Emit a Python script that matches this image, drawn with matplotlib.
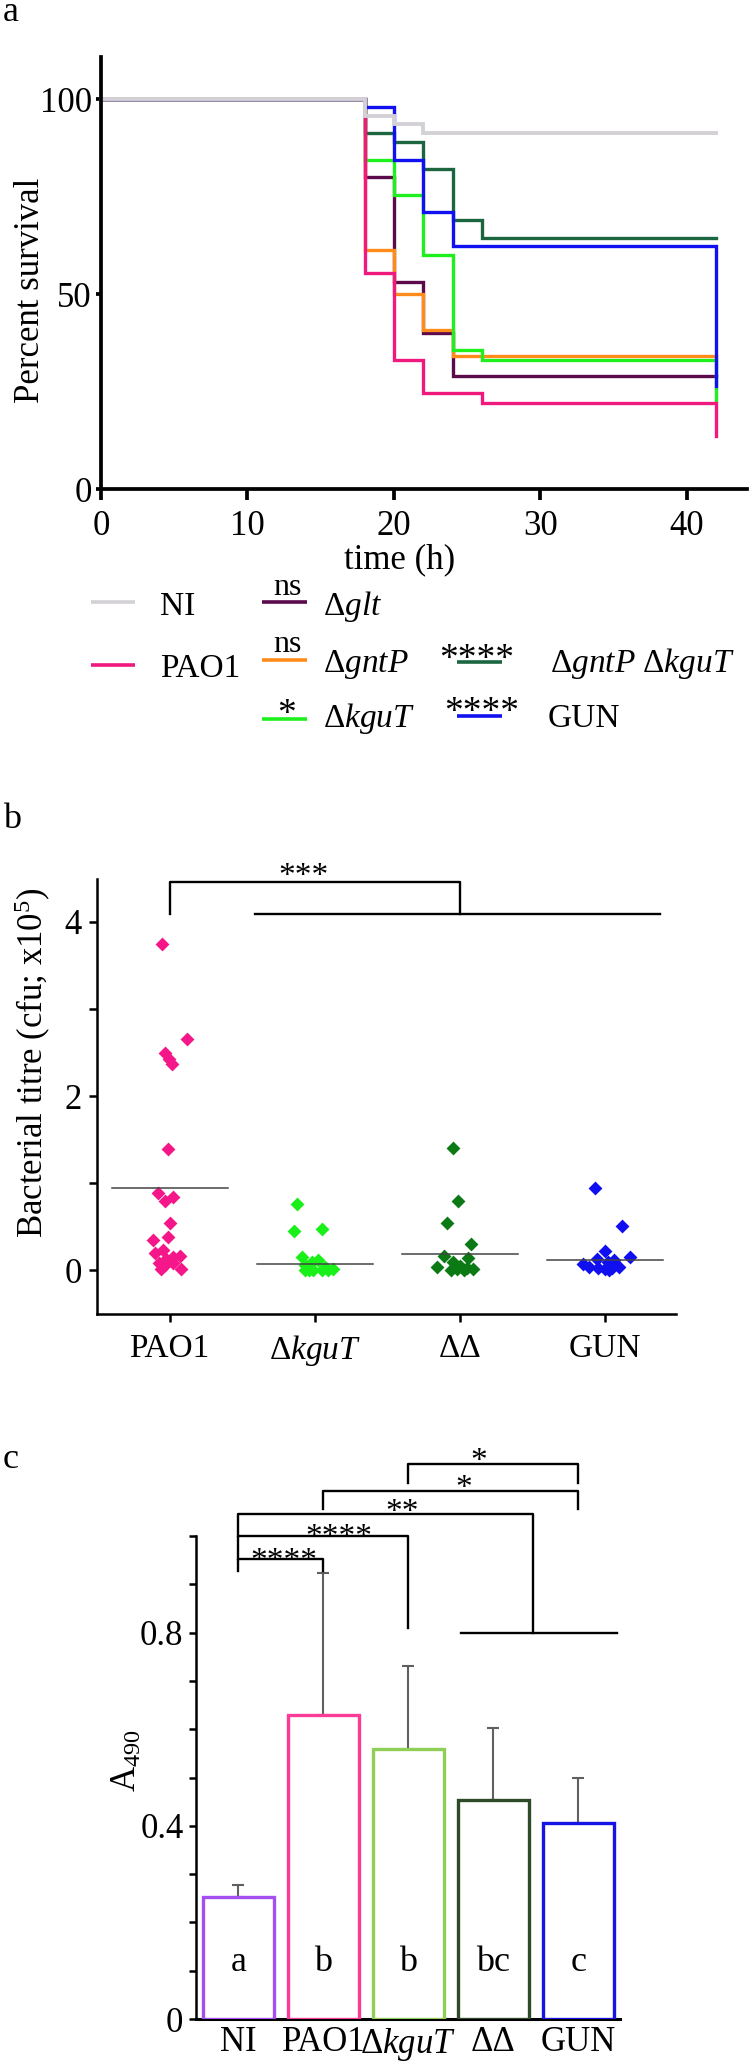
import matplotlib
matplotlib.use('Agg')
import matplotlib.pyplot as plt
import numpy as np

plt.rcParams['font.family'] = ['Liberation Serif', 'DejaVu Serif']
plt.rcParams['mathtext.fontset'] = 'custom'
plt.rcParams['mathtext.rm'] = 'Liberation Serif'
plt.rcParams['mathtext.it'] = 'Liberation Serif:italic'
plt.rcParams['mathtext.bf'] = 'Liberation Serif:bold'

# ---------------- data: panel a (survival, %) ----------------
surv_times = [0, 18, 20, 22, 24, 26, 42]
surv_NI = [100, 95.7, 93.5, 91.2, 91.2, 91.2, 91.2]
surv_PAO1 = [100, 55.5, 33.2, 24.5, 24.5, 22.1, 13.6]
surv_glt = [100, 79.9, 53.1, 39.9, 28.9, 28.9, 28.9]
surv_gntP = [100, 61.2, 49.9, 40.9, 34.0, 34.0, 34.0]
surv_kguT = [100, 84.5, 75.5, 60.0, 35.6, 33.2, 22.7]
surv_DD = [100, 91.2, 88.9, 82.2, 68.9, 64.5, 64.5]
surv_GUN = [100, 97.9, 84.5, 71.0, 62.3, 62.3, 26.4]
a_xticks = [0, 10, 20, 30, 40]
a_yticks = [0, 50, 100]

# ---------------- data: panel b (bacterial titre, x10^5) ----------------
b_groups = ['PAO1', r'$\Delta\mathit{kguT}$', 'ΔΔ', 'GUN']
b_PAO1 = [3.74, 2.66, 2.49, 2.43, 2.37, 1.39, 0.89, 0.84, 0.80, 0.545, 0.38,
          0.35, 0.23, 0.20, 0.17, 0.155, 0.136, 0.08, 0.06, 0.08, 0.02, 0.02]
b_PAO1_dx = [-0.053, 0.122, -0.028, -0.005, 0.016, -0.012, -0.081, 0.023, -0.028, 0.005, -0.012,
             -0.115, -0.046, -0.097, 0.069, 0.023, -0.023, -0.074, -0.028, 0.023, 0.081, -0.057]
b_kguT = [0.76, 0.45, 0.48, 0.155, 0.125, 0.10, 0.06, 0.04, 0.02, 0.0, 0.0, 0.0, 0.0, 0.0]
b_kguT_dx = [-0.124, -0.14, 0.048, -0.085, 0.025, -0.02, -0.067, 0.07, 0.129, -0.067, -0.009, 0.048, -0.04, 0.09]
b_DD = [1.40, 0.80, 0.54, 0.30, 0.17, 0.14, 0.10, 0.04, 0.05, 0.03, 0.02, 0.01, 0.02, 0.0]
b_DD_dx = [-0.05, -0.014, -0.09, 0.078, -0.108, 0.06, -0.044, -0.159, 0.0, 0.05, -0.02, 0.03, 0.09, -0.06]
b_GUN = [0.94, 0.51, 0.155, 0.22, 0.135, 0.117, 0.07, 0.10, 0.04, 0.03, 0.02, 0.03, 0.04, 0.0]
b_GUN_dx = [-0.067, 0.121, 0.175, -0.002, -0.055, 0.06, -0.154, 0.02, -0.11, -0.05, 0.0, 0.05, 0.1, 0.03]
b_means = [0.946, 0.079, 0.186, 0.117]
b_yticks = [0, 1, 2, 3, 4]
b_ytick_labels = ['0', '', '2', '', '4']

# ---------------- data: panel c (A490) ----------------
c_groups = ['NI', 'PAO1', r'$\Delta\mathit{kguT}$', 'ΔΔ', 'GUN']
c_mean = [0.253, 0.629, 0.559, 0.454, 0.405]
c_sd = [0.025, 0.294, 0.171, 0.148, 0.095]
c_letters = ['a', 'b', 'b', 'bc', 'c']
c_yticks = [0, 0.1, 0.2, 0.3, 0.4, 0.5, 0.6, 0.7, 0.8, 0.9, 1.0]
c_ytick_labels = ['0', '', '', '', '0.4', '', '', '', '0.8', '', '']

# ---------------- styles ----------------
col_a = {'NI': '#d3d1d6', 'PAO1': '#f0197d', 'glt': '#5b0a4c', 'gntP': '#ff8c1a',
         'kguT': '#1ef01e', 'DD': '#1b6640', 'GUN': '#1010f0'}
col_b = ['#f5168a', '#19f019', '#0b7a14', '#0f0ff0']
col_c = ['#a450f0', '#fb3c96', '#90cf55', '#2f4a28', '#1414e6']

W, H = 750, 2062
fig = plt.figure(figsize=(7.5, 20.62), dpi=100)


def rect(l, t, r, b):
    return [l / W, 1 - b / H, (r - l) / W, (b - t) / H]


FS = 25

# ================= panel a =================
ax = fig.add_axes(rect(101, 57, 747, 489))
series = [('glt', surv_glt), ('gntP', surv_gntP), ('kguT', surv_kguT), ('DD', surv_DD),
          ('PAO1', surv_PAO1), ('GUN', surv_GUN), ('NI', surv_NI)]
for key, vals in series:
    ax.step(surv_times, vals, where='post', color=col_a[key],
            lw=2.8 if key == 'NI' else 2.4, solid_joinstyle='miter', clip_on=False)
ax.set_xlim(0, 44.1)
ax.set_ylim(0, 110.8)
for s in ['top', 'right']:
    ax.spines[s].set_visible(False)
for s in ['left', 'bottom']:
    ax.spines[s].set_linewidth(2.7)
ax.set_xticks(a_xticks)
ax.set_yticks(a_yticks)
ax.tick_params(axis='x', length=8, width=2.7, pad=7, labelsize=FS)
ax.tick_params(axis='y', length=3.6, width=2.7, pad=3, labelsize=FS)
ax.patch.set_alpha(0)

# ================= panel b =================
axb = fig.add_axes(rect(97, 879, 676, 1314))
b_vals = [b_PAO1, b_kguT, b_DD, b_GUN]
b_dx = [b_PAO1_dx, b_kguT_dx, b_DD_dx, b_GUN_dx]
for i, (vals, dx) in enumerate(zip(b_vals, b_dx)):
    axb.scatter(i + np.array(dx), vals, marker='D', s=50, color=col_b[i], linewidths=0, zorder=3)
    axb.plot([i - 0.4, i + 0.4], [b_means[i], b_means[i]], color='#444444', lw=1.1, zorder=4)
axb.set_xlim(-0.5, 3.49)
axb.set_ylim(-0.5, 4.49)
for s in ['top', 'right']:
    axb.spines[s].set_visible(False)
for s in ['left', 'bottom']:
    axb.spines[s].set_linewidth(1.8)
axb.set_xticks(range(len(b_groups)))
axb.set_xticklabels(b_groups)
axb.set_yticks(b_yticks)
axb.set_yticklabels(b_ytick_labels)
axb.tick_params(axis='x', length=6, width=1.8, pad=8, labelsize=FS - 1)
axb.tick_params(axis='y', length=6, width=1.8, pad=5, labelsize=FS)
axb.plot([0, 0, 2, 2], [4.09, 4.46, 4.46, 4.09], color='black', lw=1.7, clip_on=False)
axb.plot([0.59, 3.38], [4.09, 4.09], color='black', lw=1.7, clip_on=False)
axb.patch.set_alpha(0)


def stars(a, x, ink_bottom, s, fs):
    a.annotate(s, (x, ink_bottom), xytext=(0, -0.33 * fs), textcoords='offset points',
               ha='center', va='baseline', fontsize=fs, annotation_clip=False)


stars(axb, 0.92, 4.55, '***', 24)

# ================= panel c =================
axc = fig.add_axes(rect(196, 1536, 620, 2019))
xc = np.arange(len(c_groups))
axc.errorbar(xc, c_mean, yerr=[np.zeros(len(c_sd)), c_sd], fmt='none', ecolor='#606060',
             elinewidth=1.5, capsize=4, capthick=1.5, zorder=2)
axc.bar(xc, c_mean, width=0.835, facecolor='white', edgecolor=col_c, linewidth=2.4, zorder=3)
for i, t in enumerate(c_letters):
    axc.text(i, 0.099, t, ha='center', va='baseline', fontsize=FS + 1, zorder=4)
axc.set_xlim(-0.5, 4.49)
axc.set_ylim(0, 1.0)
for s in ['top', 'right']:
    axc.spines[s].set_visible(False)
axc.spines['left'].set_linewidth(1.8)
axc.spines['bottom'].set_linewidth(2.2)
axc.set_xticks(xc)
axc.set_xticklabels(c_groups)
axc.set_yticks(c_yticks)
axc.set_yticklabels(c_ytick_labels)
axc.tick_params(axis='x', length=0, pad=5, labelsize=FS)
axc.tick_params(axis='y', length=5, width=1.8, pad=4, labelsize=FS)
axc.patch.set_alpha(0)

bk = dict(color='black', lw=1.7, clip_on=False)
axc.plot([0, 0, 1, 1], [0.927, 0.952, 0.952, 0.927], **bk)
axc.plot([0, 0, 2, 2], [0.952, 1.001, 1.001, 0.809], **bk)
axc.plot([0, 0, 3.47, 3.47], [1.001, 1.045, 1.045, 0.80], **bk)
axc.plot([2.62, 4.45], [0.80, 0.80], **bk)
axc.plot([1, 1, 4, 4], [1.056, 1.094, 1.094, 1.056], **bk)
axc.plot([2, 2, 4, 4], [1.109, 1.149, 1.149, 1.109], **bk)
stars(axc, 0.54, 0.952, '****', 24)
stars(axc, 1.18, 1.003, '****', 24)
stars(axc, 1.92, 1.054, '**', 24)
stars(axc, 2.65, 1.104, '*', 24)
stars(axc, 2.83, 1.159, '*', 24)

# ================= overlay: labels & legend =================
ov = fig.add_axes([0, 0, 1, 1], zorder=10)
ov.set_xlim(0, W)
ov.set_ylim(H, 0)
ov.axis('off')

ov.text(3, 21, 'a', fontsize=FS + 1, ha='left', va='baseline')
ov.text(3, 828, 'b', fontsize=FS + 1, ha='left', va='baseline')
ov.text(3, 1468, 'c', fontsize=FS + 1, ha='left', va='baseline')

ov.text(31, 290, 'Percent survival', rotation=90, ha='center', va='center', fontsize=FS)
ov.text(400, 560, 'time (h)', ha='center', va='center', fontsize=FS)
ov.text(33, 1063, r'Bacterial titre (cfu; x10$^{5}$)', rotation=90, ha='center', va='center', fontsize=FS)
ov.text(127, 1761, r'A$_{490}$', rotation=90, ha='center', va='center', fontsize=FS)

LFS = 24
leg_lines = [('NI', 91, 135, 602), ('PAO1', 91, 135, 665), ('glt', 262, 307, 602),
             ('gntP', 262, 307, 660), ('kguT', 262, 307, 719), ('DD', 457, 502, 662),
             ('GUN', 457, 502, 716)]
for key, x0, x1, y in leg_lines:
    ov.plot([x0, x1], [y, y], color=col_a[key], lw=2.6, solid_capstyle='butt')
leg_text = [('NI', 160, 615), ('PAO1', 160, 677), (r'$\Delta\mathit{glt}$', 323, 615),
            (r'$\Delta\mathit{gntP}$', 323, 672), (r'$\Delta\mathit{kguT}$', 323, 727),
            (r'$\Delta\mathit{gntP}\ \Delta\mathit{kguT}$', 550, 672), ('GUN', 548, 727)]
for t, x, y in leg_text:
    ov.text(x, y, t, fontsize=LFS, ha='left', va='baseline')
ov.text(287, 595, 'ns', fontsize=LFS - 1, ha='center', va='baseline')
ov.text(287, 652, 'ns', fontsize=LFS - 1, ha='center', va='baseline')
stars(ov, 287, 712, '*', 27)
stars(ov, 477, 657, '****', 27)
stars(ov, 482, 710, '****', 27)

fig.savefig('out.png', dpi=100)
